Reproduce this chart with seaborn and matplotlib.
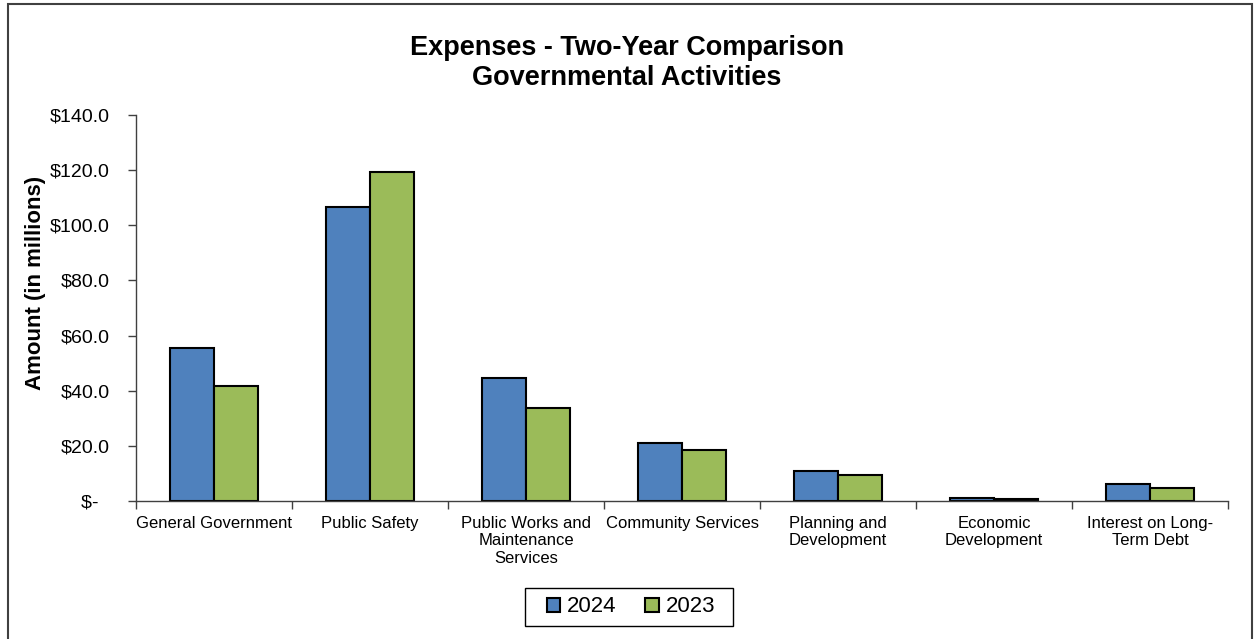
import matplotlib
matplotlib.use("Agg")
import matplotlib.pyplot as plt
import seaborn as sns
import pandas as pd
from matplotlib.ticker import FuncFormatter, FixedLocator, MultipleLocator
from matplotlib.patches import Rectangle

categories = [
    "General Government",
    "Public Safety",
    "Public Works and\nMaintenance\nServices",
    "Community Services",
    "Planning and\nDevelopment",
    "Economic\nDevelopment",
    "Interest on Long-\nTerm Debt",
]
values_2024 = [55.6, 106.7, 44.6, 21.2, 10.9, 1.2, 6.2]
values_2023 = [41.8, 119.2, 33.6, 18.5, 9.5, 0.6, 4.7]
years = ["2024", "2023"]
colors = ["#4F81BD", "#9BBB59"]

df = pd.DataFrame({
    "Category": categories * 2,
    "Year": [years[0]] * len(categories) + [years[1]] * len(categories),
    "Amount": values_2024 + values_2023,
})

sns.set_style("white")
plt.rcParams["font.family"] = ["Liberation Sans", "DejaVu Sans"]
plt.rcParams["text.color"] = "black"
plt.rcParams["axes.labelcolor"] = "black"
plt.rcParams["xtick.color"] = "black"
plt.rcParams["ytick.color"] = "black"

W, H = 1255, 639
fig = plt.figure(figsize=(W / 100, H / 100), dpi=100)
ax = fig.add_axes([136 / W, 1 - 501 / H, (1228 - 136) / W, (501 - 115) / H])

sns.barplot(data=df, x="Category", y="Amount", hue="Year", order=categories,
            hue_order=years, palette=colors, width=0.57, edgecolor="black",
            linewidth=1.5, saturation=1, ax=ax, legend=True)

ax.set_xlim(-0.5, len(categories) - 0.5)
ax.set_ylim(0, 140)
ax.yaxis.set_major_locator(MultipleLocator(20))

def fmt(v, pos):
    if abs(v) < 1e-9:
        return "$-  "
    return f"${v:.1f}"

ax.yaxis.set_major_formatter(FuncFormatter(fmt))
ax.tick_params(axis="y", which="major", left=True, length=6, width=1, color="#404040",
               labelsize=14, pad=13)
ax.tick_params(axis="x", which="major", bottom=False, length=0, labelsize=12, pad=11)
ax.xaxis.set_minor_locator(FixedLocator([i - 0.5 for i in range(len(categories) + 1)]))
ax.tick_params(axis="x", which="minor", bottom=True, length=6, width=1, color="#404040")
for lab in ax.get_xticklabels():
    lab.set_linespacing(1.18)

sns.despine(ax=ax, top=True, right=True)
for side in ["left", "bottom"]:
    ax.spines[side].set_color("#404040")
    ax.spines[side].set_linewidth(1.0)

ax.set_xlabel("")
ax.set_ylabel("Amount (in millions)", fontsize=16, fontweight="bold")
ax.yaxis.set_label_coords(-(136 - 46) / (1228 - 136), (501 - 283) / (501 - 115))

fig.text(627 / W, 1 - 48 / H, "Expenses - Two-Year Comparison", ha="center", va="center",
         fontsize=19.5, fontweight="bold")
fig.text(627 / W, 1 - 78 / H, "Governmental Activities", ha="center", va="center",
         fontsize=19.5, fontweight="bold")

handles, labels = ax.get_legend_handles_labels()
ax.legend_.remove()
leg = fig.legend(handles, labels, loc="center", bbox_to_anchor=(631 / W, 1 - 607 / H),
                 ncol=2, frameon=False, fontsize=16,
                 handlelength=0.6, handleheight=0.6, handletextpad=0.3, columnspacing=1.3)
fig.patches.append(Rectangle((525 / W, 1 - 626 / H), (733 - 525) / W, (626 - 588) / H,
                             transform=fig.transFigure, fill=False, edgecolor="black",
                             linewidth=1.0))

fig.patches.append(Rectangle((8 / W, -0.05), (1252 - 8) / W, 1.05 - 4 / H,
                             transform=fig.transFigure, fill=False, edgecolor="#404040",
                             linewidth=1.5))

fig.savefig("out.png", dpi=100)
